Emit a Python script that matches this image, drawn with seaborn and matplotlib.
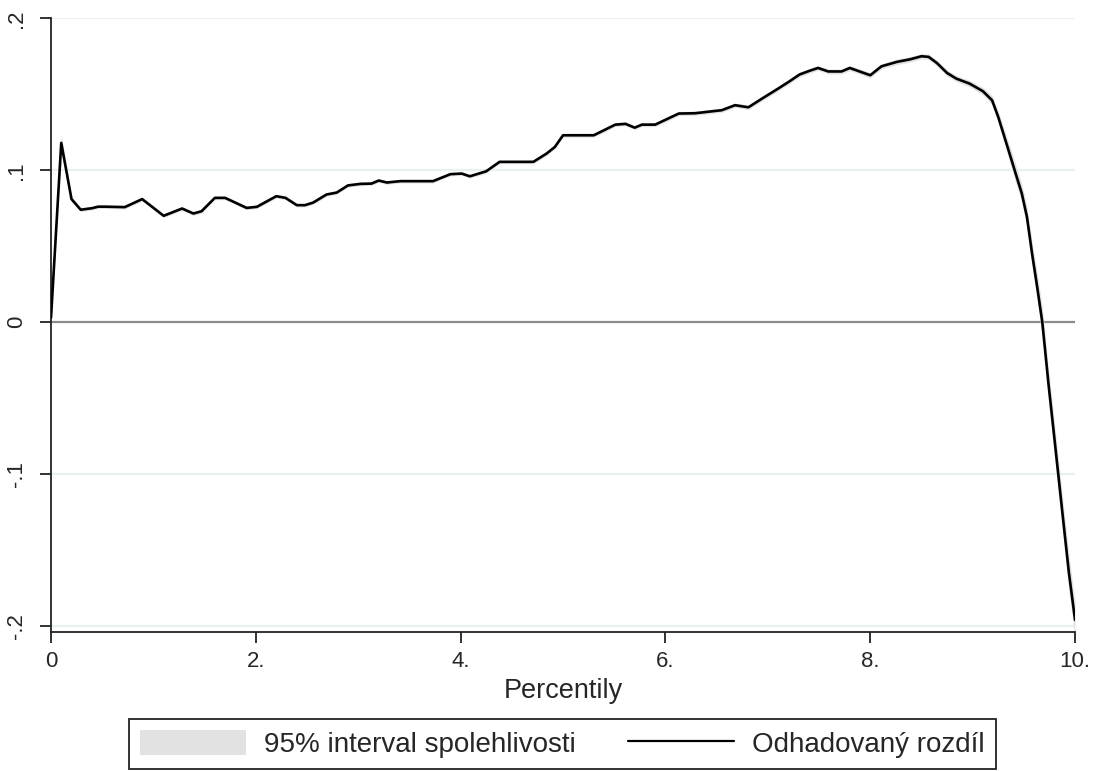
import matplotlib
matplotlib.use("Agg")
import matplotlib.pyplot as plt
import seaborn as sns
import pandas as pd
from matplotlib.patches import Patch
from matplotlib.lines import Line2D

# ---- data ----
percentile = [0.00, 0.10, 0.20, 0.29, 0.40, 0.46, 0.53, 0.72, 0.89, 1.10,
              1.28, 1.39, 1.47, 1.60, 1.70, 1.91, 2.01, 2.20, 2.29, 2.40,
              2.48, 2.56, 2.69, 2.79, 2.90, 3.02, 3.13, 3.20, 3.28, 3.41,
              3.73, 3.90, 4.01, 4.09, 4.25, 4.38, 4.71, 4.84, 4.92, 5.00,
              5.30, 5.51, 5.61, 5.70, 5.77, 5.90, 6.13, 6.29, 6.55, 6.68,
              6.81, 6.94, 7.10, 7.20, 7.31, 7.41, 7.49, 7.59, 7.72, 7.80,
              8.00, 8.11, 8.26, 8.39, 8.50, 8.57, 8.65, 8.75, 8.84, 8.97,
              9.10, 9.19, 9.25, 9.33, 9.41, 9.48, 9.53, 9.58, 9.63, 9.68,
              9.74, 9.80, 9.87, 9.94, 10.00]
estimate = [0.003, 0.118, 0.081, 0.074, 0.075, 0.076, 0.076, 0.0757, 0.081, 0.070,
            0.0748, 0.0715, 0.073, 0.0818, 0.0818, 0.0752, 0.0759, 0.0829, 0.0818, 0.077,
            0.077, 0.0787, 0.084, 0.0853, 0.090, 0.091, 0.0912, 0.0932, 0.0919, 0.0928,
            0.0928, 0.0974, 0.0978, 0.096, 0.0993, 0.1055, 0.1055, 0.111, 0.1153, 0.123,
            0.123, 0.130, 0.1305, 0.128, 0.130, 0.130, 0.1373, 0.1375, 0.1395, 0.1428,
            0.1414, 0.147, 0.1537, 0.158, 0.163, 0.1655, 0.1673, 0.165, 0.165, 0.1673,
            0.1625, 0.1684, 0.1713, 0.173, 0.175, 0.1746, 0.1706, 0.164, 0.1603, 0.157,
            0.152, 0.146, 0.135, 0.1176, 0.100, 0.0847, 0.0693, 0.0452, 0.0232, 0.000,
            -0.0403, -0.0776, -0.1215, -0.165, -0.196]
ci_half = [0.002, 0.006, 0.002, 0.0012, 0.0012, 0.0012, 0.0012, 0.0012, 0.0012, 0.0012,
           0.0012, 0.0012, 0.0012, 0.0012, 0.0012, 0.0012, 0.0012, 0.0012, 0.0012, 0.0012,
           0.0012, 0.0012, 0.0012, 0.0012, 0.0012, 0.0012, 0.0012, 0.0012, 0.0012, 0.0012,
           0.0012, 0.0012, 0.0012, 0.0012, 0.0012, 0.0012, 0.0012, 0.0013, 0.0013, 0.0013,
           0.0013, 0.0013, 0.0013, 0.0013, 0.0013, 0.0013, 0.0014, 0.0014, 0.0014, 0.0014,
           0.0015, 0.0015, 0.0015, 0.0015, 0.0016, 0.0016, 0.0016, 0.0016, 0.0016, 0.0017,
           0.0017, 0.0017, 0.0018, 0.0018, 0.0018, 0.0019, 0.0019, 0.002, 0.002, 0.0022,
           0.0024, 0.003, 0.004, 0.005, 0.006, 0.006, 0.007, 0.008, 0.009, 0.010,
           0.010, 0.011, 0.011, 0.012, 0.012]

y_ticks = [-0.2, -0.1, 0.0, 0.1, 0.2]
y_tick_labels = ["-.2", "-.1", "0", ".1", ".2"]
x_ticks = [0, 2, 4, 6, 8, 10]
x_tick_labels = ["0", "2.", "4.", "6.", "8.", "10."]
x_label = "Percentily"
legend_labels = ["95% interval spolehlivosti", "Odhadovaný rozdíl"]

df = pd.DataFrame({"p": percentile, "est": estimate, "h": ci_half})
df["lo"] = df["est"] - df["h"]
df["hi"] = df["est"] + df["h"]

sns.set_style("white")
plt.rcParams["font.family"] = ["Liberation Sans", "DejaVu Sans"]

fig = plt.figure(figsize=(10.97, 7.71), dpi=100)
ax = fig.add_axes([0.0465, 0.1807, 0.9335, 0.7956])

grid_c = "#e8f0f2"
for yv in y_ticks:
    if yv != 0:
        ax.axhline(yv, color=grid_c, lw=1.6, zorder=0)
ax.axhline(0, color="#8a8a8a", lw=1.6, zorder=1)

ax.fill_between(df["p"], df["lo"], df["hi"], color="#e2e2e2", lw=0, zorder=2)
sns.lineplot(data=df, x="p", y="est", color="black", lw=1.9, ax=ax, zorder=3,
             sort=False, estimator=None)

ax.set_xlim(0, 10)
ax.set_ylim(-0.2037, 0.2)
ax.set_xticks(x_ticks)
ax.set_xticklabels(x_tick_labels, fontsize=16)
ax.set_yticks(y_ticks)
ax.set_yticklabels(y_tick_labels, fontsize=16, rotation=90, va="center")
ax.set_xlabel(x_label, fontsize=19.5, labelpad=4)
ax.set_ylabel("")

for s in ["top", "right"]:
    ax.spines[s].set_visible(False)
for s in ["left", "bottom"]:
    ax.spines[s].set_color("#222222")
    ax.spines[s].set_linewidth(1.3)
ax.tick_params(axis="both", direction="out", length=8, width=1.3, color="#222222",
               left=True, bottom=True)
ax.tick_params(axis="x", pad=6)
ax.tick_params(axis="y", pad=9)

handles = [Patch(facecolor="#e2e2e2", edgecolor="none"),
           Line2D([0], [0], color="black", lw=1.6)]
leg = fig.legend(handles, legend_labels, loc="center", bbox_to_anchor=(0.5128, 0.035),
                 ncol=2, fontsize=20, frameon=True, fancybox=False, framealpha=1,
                 edgecolor="#222222", handlelength=3.8, handleheight=1.0,
                 handletextpad=0.65, columnspacing=1.9, borderpad=0.4,
                 borderaxespad=0)
leg.get_frame().set_linewidth(1.3)

fig.savefig("out.png", dpi=100)
